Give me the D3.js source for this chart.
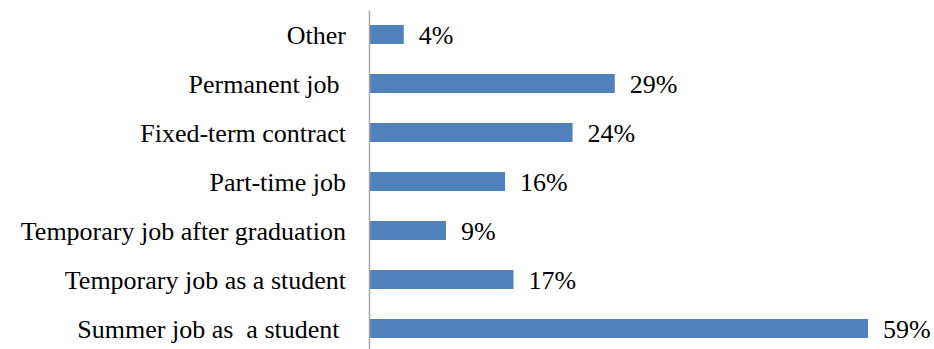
<!DOCTYPE html>
<html>
<head>
<meta charset="utf-8">
<script src="https://cdn.jsdelivr.net/npm/d3@7"></script>
<style>
  html, body { margin: 0; padding: 0; background: #fff; }
  svg text { font-family: "Liberation Serif", "Times New Roman", serif; white-space: pre; }
</style>
</head>
<body>
<svg id="chart" width="934" height="349"></svg>
<script>
// Job types (top to bottom) and their shares in percent
const categories = [
  "Other",
  "Permanent job ",
  "Fixed-term contract",
  "Part-time job",
  "Temporary job after graduation",
  "Temporary job as a student",
  "Summer job as  a student "
];
const values = [4, 29, 24, 16, 9, 17, 59];
const valueLabels = ["4%", "29%", "24%", "16%", "9%", "17%", "59%"];

const svg = d3.select("#chart");
const left = 369;
const fontSize = "26px";

const x = d3.scaleLinear().domain([0, 59]).range([left + 1, 868]);
const y = d3.scaleBand()
  .domain(categories)
  .range([10, 353])
  .paddingInner(0.612)
  .paddingOuter(0.306);

// Bars
svg.append("g")
  .selectAll("rect")
  .data(values)
  .join("rect")
  .attr("x", x(0))
  .attr("y", (d, i) => y(categories[i]))
  .attr("width", d => x(d) - x(0))
  .attr("height", y.bandwidth())
  .attr("fill", "#4f81bd");

// Category axis
const axis = svg.append("g")
  .attr("transform", `translate(${left},0)`)
  .call(d3.axisLeft(y).tickSize(0).tickPadding(23));
axis.attr("font-family", null).attr("font-size", null);
axis.select(".domain").attr("stroke", "#a6a6a6").attr("stroke-width", 1.5);
axis.selectAll("text")
  .attr("fill", "#000")
  .attr("dy", "0.38em")
  .style("font-size", fontSize);

// Value labels
svg.append("g")
  .selectAll("text")
  .data(values)
  .join("text")
  .attr("x", d => x(d) + 15)
  .attr("y", (d, i) => y(categories[i]) + y.bandwidth() / 2)
  .attr("dy", "0.38em")
  .attr("fill", "#000")
  .style("font-size", fontSize)
  .text((d, i) => valueLabels[i]);
</script>
</body>
</html>
